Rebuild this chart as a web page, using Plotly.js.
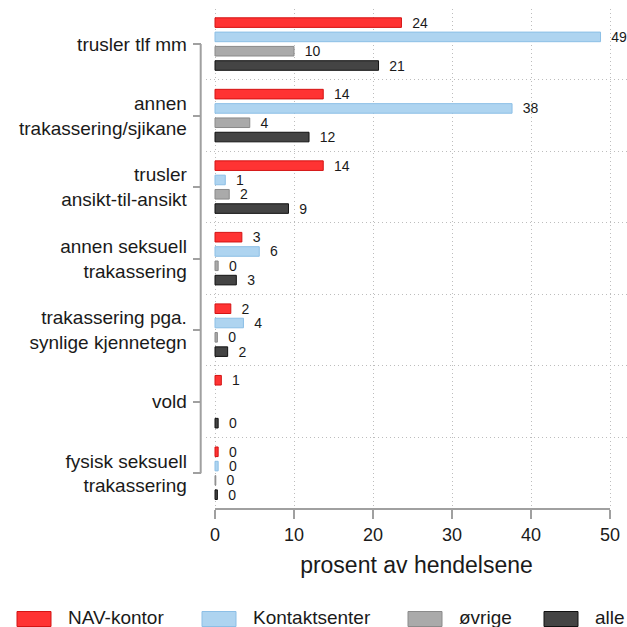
<!DOCTYPE html>
<html><head><meta charset="utf-8">
<script src="https://cdn.plot.ly/plotly-3.0.1.min.js"></script>
<style>html,body{margin:0;padding:0;background:#fff}</style>
</head><body><div id="chart" style="width:627px;height:627px"></div>
<script>
// ---- data ----
const categories = ["trusler tlf mm", "annen<br>trakassering/sjikane", "trusler<br>ansikt-til-ansikt",
  "annen seksuell<br>trakassering", "trakassering pga.<br>synlige kjennetegn", "vold",
  "fysisk seksuell<br>trakassering"];
const seriesNames = ["NAV-kontor", "Kontaktsenter", "øvrige", "alle"];
const navKontor = [23.6, 13.7, 13.7, 3.4, 2.0, 0.8, 0.4];
const kontaktsenter = [48.8, 37.6, 1.3, 5.6, 3.6, null, 0.4];
const ovrige = [10.0, 4.4, 1.8, 0.4, 0.3, null, 0.1];
const alle = [20.7, 11.9, 9.3, 2.7, 1.6, 0.4, 0.3];
const xTickVals = [0, 10, 20, 30, 40, 50];
const xTitle = "prosent av hendelsene";

// ---- styles ----
const fillColors = ["#ff3333", "#aed4f0", "#aaaaaa", "#444444"];
const lineColors = ["#d41414", "#8cbfe6", "#8a8a8a", "#111111"];
const legendX = [17, 202, 408, 544];
const W = 627, plotTop = 9, plotBottom = 509, plotH = plotBottom - plotTop;
const axisGray = "#a0a0a0", gridGray = "#bdbdbd", textCol = "#1a1a1a";
const yAxisPos = 200.7 / W;

const seriesValues = [navKontor, kontaktsenter, ovrige, alle];
const traces = seriesValues.map((vals, i) => ({
  type: "bar", orientation: "h", y: categories, x: vals, name: seriesNames[i],
  marker: {color: fillColors[i], line: {color: lineColors[i], width: 1}},
  texttemplate: "\u00a0\u00a0%{x:.0f}", textposition: "outside", constraintext: "none",
  textfont: {size: 14, color: textCol}, cliponaxis: false,
  showlegend: false, hoverinfo: "skip"
}));
// invisible trace carrying the categories for the boundary-grid axis
traces.push({type: "scatter", mode: "none", x: alle, y: categories, yaxis: "y2",
  showlegend: false, hoverinfo: "skip"});

const shapes = [
  {type: "line", xref: "x", yref: "paper", x0: xTickVals[0], x1: xTickVals[xTickVals.length - 1],
   y0: 0, y1: 0, line: {color: axisGray, width: 2}},
  {type: "line", xref: "paper", yref: "y", x0: yAxisPos, x1: yAxisPos,
   y0: categories[0], y1: categories[categories.length - 1], line: {color: axisGray, width: 2}}
];
const annotations = [];
seriesNames.forEach((nm, i) => {
  shapes.push({type: "rect", xref: "paper", yref: "paper",
    x0: legendX[i] / W, x1: (legendX[i] + 34) / W,
    y0: (plotBottom - 611.5) / plotH, y1: (plotBottom - 626.5) / plotH,
    fillcolor: fillColors[i], line: {color: lineColors[i], width: 1}});
  annotations.push({text: nm, xref: "paper", yref: "paper", x: (legendX[i] + 49) / W,
    y: (plotBottom - 617.5) / plotH, xanchor: "left", yanchor: "middle", showarrow: false,
    font: {size: 19, color: textCol}});
});

const layout = {
  width: W, height: 627, margin: {l: 0, r: 0, t: plotTop, b: 627 - plotBottom, pad: 0},
  paper_bgcolor: "#fff", plot_bgcolor: "#fff",
  font: {family: '"Liberation Sans", Arial, sans-serif', color: textCol},
  barmode: "group", bargap: 0.2, bargroupgap: 0.33, showlegend: false,
  xaxis: {domain: [206 / W, 1], range: [-1.14, 52.15], tickmode: "array", tickvals: xTickVals,
    ticks: "outside", ticklen: 9, tickwidth: 2, tickcolor: axisGray, showline: false,
    zeroline: false, showgrid: true, gridcolor: gridGray, gridwidth: 1, griddash: "1px,3px",
    tickfont: {size: 18, color: textCol},
    title: {text: xTitle, font: {size: 23, color: textCol}, standoff: 13}},
  yaxis: {type: "category", categoryorder: "array", categoryarray: categories,
    range: [6.5, -0.49], autorange: false, anchor: "free", position: yAxisPos, side: "left",
    ticks: "outside", ticklen: 8, tickwidth: 2, tickcolor: axisGray, showline: false,
    showgrid: false, zeroline: false, ticklabelstandoff: 2, tickfont: {size: 19, color: textCol}},
  yaxis2: {type: "category", categoryorder: "array", categoryarray: categories,
    range: [6.5, -0.49], autorange: false, overlaying: "y", anchor: "x", side: "left",
    tickson: "boundaries", ticks: "", showticklabels: false, showgrid: true,
    gridcolor: gridGray, gridwidth: 1, griddash: "1px,3px", showline: false, zeroline: false},
  shapes: shapes, annotations: annotations
};
Plotly.newPlot("chart", traces, layout, {displayModeBar: false, staticPlot: true});
</script></body></html>
